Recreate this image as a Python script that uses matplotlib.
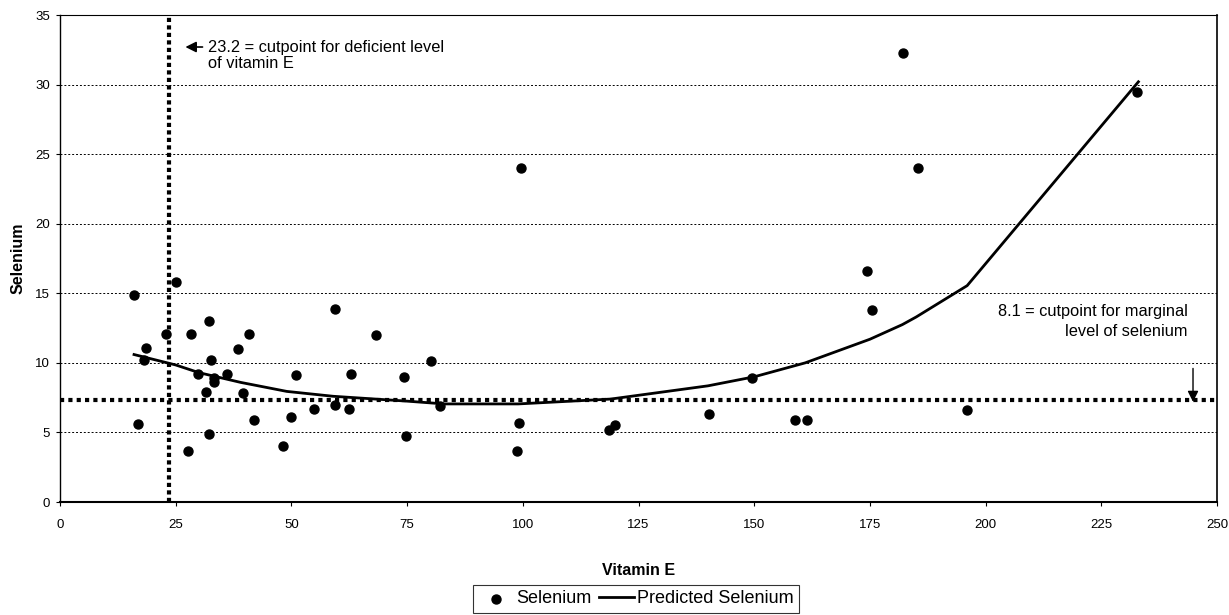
import matplotlib
matplotlib.use("Agg")
import matplotlib.pyplot as plt

plt.rcParams['font.family'] = ['Liberation Sans', 'DejaVu Sans']

# observed points
vit_e = [16.0, 16.9, 18.5, 18.1, 23.0, 25.0, 28.4, 27.7, 29.8, 32.1, 31.5, 32.1,
         32.7, 33.3, 33.2, 36.0, 38.4, 40.9, 39.5, 42.0, 48.1, 50.0, 50.9, 54.9,
         59.4, 59.4, 62.5, 62.9, 68.2, 74.3, 74.7, 80.2, 82.0,
         99.5, 99.2, 98.7, 118.7, 120.0, 140.2, 149.5, 158.9, 161.4,
         182.1, 185.4, 174.3, 175.4, 232.8, 196.0]
selenium = [14.9, 5.6, 11.1, 10.2, 12.1, 15.8, 12.1, 3.7, 9.2, 13.0, 7.9, 4.9,
            10.2, 8.9, 8.6, 9.2, 11.0, 12.1, 7.8, 5.9, 4.0, 6.1, 9.1, 6.7,
            13.9, 7.0, 6.7, 9.2, 12.0, 9.0, 4.75, 10.1, 6.9,
            24.0, 5.7, 3.7, 5.2, 5.5, 6.3, 8.9, 5.9, 5.9,
            32.3, 24.0, 16.6, 13.8, 29.5, 6.6]

# predicted curve
pred_x = [16, 25, 30, 39, 49, 59, 75, 83, 99, 119, 140, 150, 161, 175, 182, 185, 196, 233]
pred_y = [10.6, 9.85, 9.3, 8.6, 7.95, 7.6, 7.25, 7.05, 7.05, 7.4, 8.35, 9.0, 10.0,
          11.7, 12.75, 13.3, 15.55, 30.2]

vit_cut = 23.5
sel_cut = 7.35

fig = plt.figure(figsize=(12.29, 6.15), dpi=100)
ax = fig.add_axes([0.0488, 0.1837, 0.9415, 0.7919])

ax.set_xlim(0, 250)
ax.set_ylim(0, 35)
ax.set_xticks(range(0, 251, 25))
ax.set_yticks(range(0, 36, 5))
for y in range(5, 35, 5):
    ax.axhline(y, color='black', lw=0.7, ls=(0, (2, 2)), zorder=1)

ax.axvline(vit_cut, color='black', lw=3, ls=(0, (1, 0.8)), zorder=2)
ax.axhline(sel_cut, color='black', lw=3, ls=(0, (1, 1)), zorder=2)

sc = ax.scatter(vit_e, selenium, s=42, color='black', zorder=4, label='Selenium')
ln, = ax.plot(pred_x, pred_y, color='black', lw=2, zorder=3, label='Predicted Selenium')

for side in ['top', 'right', 'left', 'bottom']:
    ax.spines[side].set_color('black')
ax.spines['top'].set_linewidth(0.8)
ax.spines['right'].set_linewidth(1.2)
ax.spines['bottom'].set_linewidth(1.5)
ax.spines['left'].set_linewidth(1.0)
ax.tick_params(direction='out', length=3, labelsize=9.5, width=0.8)
ax.tick_params(axis='x', pad=9)
ax.tick_params(axis='y', pad=4)

ax.set_xlabel('Vitamin E', fontsize=11.5, fontweight='bold', labelpad=23)
ax.set_ylabel('Selenium', fontsize=11.5, fontweight='bold', labelpad=7)

ax.annotate('', xy=(26.5, 32.7), xytext=(31.4, 32.7),
            arrowprops=dict(arrowstyle='-|>', color='black', lw=1.2, mutation_scale=16))
ax.text(32, 32.1, '23.2 = cutpoint for deficient level\nof vitamin E',
        fontsize=11.8, va='center', ha='left', linespacing=1.05)

ax.text(243.7, 12.95, '8.1 = cutpoint for marginal\nlevel of selenium',
        fontsize=11.8, va='center', ha='right', linespacing=1.4, multialignment='right')
ax.annotate('', xy=(244.8, 7.0), xytext=(244.8, 9.8),
            arrowprops=dict(arrowstyle='-|>', color='black', lw=1, mutation_scale=16))

leg = fig.legend(handles=[sc, ln], loc='upper center', bbox_to_anchor=(0.5175, 0.049),
                 ncol=2, frameon=True, fontsize=13, fancybox=False,
                 handlelength=1.9, handletextpad=0.17, columnspacing=0.45,
                 borderpad=0.3, borderaxespad=0, markerscale=1.0)
leg.get_frame().set_edgecolor('black')
leg.get_frame().set_linewidth(0.8)

fig.savefig('out.png', dpi=100)
